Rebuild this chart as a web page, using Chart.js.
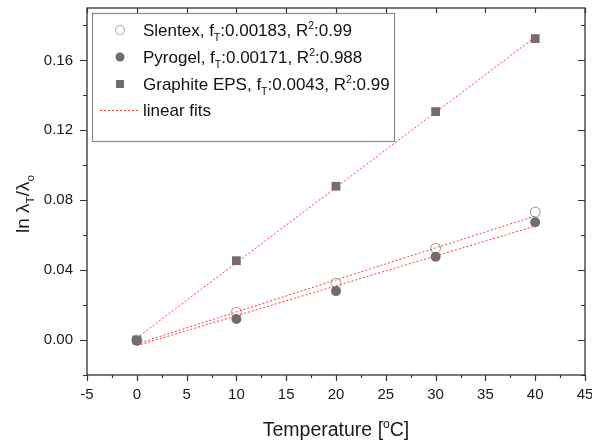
<!DOCTYPE html>
<html>
<head>
<meta charset="utf-8">
<script src="https://cdn.jsdelivr.net/npm/chart.js@4/dist/chart.umd.min.js"></script>
<style>
html,body{margin:0;padding:0;background:#fff}
</style>
</head>
<body>
<canvas id="chart" width="592" height="442"></canvas>
<script>

// measured points
const temps = [0, 10, 20, 30, 40]
const slentex = [0, 0.0159, 0.0325, 0.0525, 0.0732]
const pyrogel = [-0.0004, 0.012, 0.028, 0.0477, 0.0674]
const graphite = [0, 0.0454, 0.088, 0.1307, 0.1725]

// fit lines, read at both ends
const fitX = [0, 40]
const slentexFit = [-0.0022, 0.0710]
const pyrogelFit = [-0.0032, 0.0652]
const graphiteFit = [0.0012, 0.1734]

const xTickLabels = ["-5","0","5","10","15","20","25","30","35","40","45"]
const yTickLabels = ["0.00","0.04","0.08","0.12","0.16"]

const FONT = "Arial, 'Liberation Sans', sans-serif"
const GREY = "#6e6e6e"
const FITRED = "#ff3b3b"

function pts(xs, ys){
  return xs.map((x,i) => ({x:x, y:ys[i]}))
}

// text with sub / superscripts, parts = [[text, mode], ...]
function richWidth(ctx, parts, size){
  let w = 0
  for(const p of parts){
    const s = p[1] ? size*0.62 : size
    ctx.font = s + "px " + FONT
    w += ctx.measureText(p[0]).width
  }
  return w
}

function drawRich(ctx, parts, x, y, size){
  ctx.textBaseline = "alphabetic"
  ctx.textAlign = "left"
  for(const p of parts){
    const s = p[1] ? size*0.62 : size
    let dy = 0
    if(p[1] == "sub") dy = size*0.28
    if(p[1] == "sup") dy = -size*0.42
    ctx.font = s + "px " + FONT
    ctx.fillText(p[0], x, y + dy)
    x += ctx.measureText(p[0]).width
  }
}

const decor = {
  id: "decor",
  afterDraw(chart){
    const ctx = chart.ctx
    const a = chart.chartArea
    const xs = chart.scales.x
    const ys = chart.scales.y
    ctx.save()

    // frame
    ctx.strokeStyle = "#333"
    ctx.lineWidth = 1.3
    ctx.strokeRect(a.left, a.top, a.right - a.left, a.bottom - a.top)

    // x ticks: bottom outward, top inward
    ctx.lineWidth = 1.2
    ctx.beginPath()
    for(let v = -5; v <= 45; v += 2.5){
      const px = Math.round(xs.getPixelForValue(v)) + 0.5
      const major = v % 5 == 0
      ctx.moveTo(px, a.bottom)
      ctx.lineTo(px, a.bottom + (major ? 6 : 3))
      if(major){
        ctx.moveTo(px, a.top)
        ctx.lineTo(px, a.top + 5)
      }
    }
    // y ticks: left outward, right inward
    for(let i = -1; i <= 9; i++){
      const v = i*0.02
      const py = Math.round(ys.getPixelForValue(v)) + 0.5
      const major = i % 2 == 0
      ctx.moveTo(a.left, py)
      ctx.lineTo(a.left - (major ? 7 : 4), py)
      ctx.moveTo(a.right, py)
      ctx.lineTo(a.right - (major ? 7 : 4), py)
    }
    ctx.stroke()

    // tick labels
    ctx.fillStyle = "#1a1a1a"
    ctx.font = "15px " + FONT
    ctx.textAlign = "center"
    ctx.textBaseline = "middle"
    for(const t of xTickLabels){
      ctx.fillText(t, xs.getPixelForValue(parseFloat(t)), a.bottom + 20)
    }
    ctx.textAlign = "right"
    for(const t of yTickLabels){
      ctx.fillText(t, a.left - 14, ys.getPixelForValue(parseFloat(t)))
    }

    // x title
    const xt = [["Temperature [",""],["o","sup"],["C]",""]]
    const xw = richWidth(ctx, xt, 19.5)
    drawRich(ctx, xt, (a.left + a.right)/2 - xw/2, 436, 19.5)

    // y title
    const yt = [["ln \u03bb",""],["T","sub"],["/\u03bb",""],["o","sub"]]
    ctx.save()
    ctx.translate(29, 204)
    ctx.rotate(-Math.PI/2)
    const yw = richWidth(ctx, yt, 19)
    drawRich(ctx, yt, -yw/2, 0, 19)
    ctx.restore()

    // legend box
    ctx.strokeStyle = "#8a8a8a"
    ctx.lineWidth = 1.2
    ctx.strokeRect(92.5, 13.5, 302, 128)

    const rows = [30, 57, 84, 110]
    // markers
    ctx.lineWidth = 1.1
    ctx.strokeStyle = "#a8a8a8"
    ctx.beginPath(); ctx.arc(120, rows[0], 4.5, 0, Math.PI*2); ctx.stroke()
    ctx.fillStyle = GREY
    ctx.beginPath(); ctx.arc(120, rows[1], 4.5, 0, Math.PI*2); ctx.fill()
    ctx.fillRect(116, rows[2] - 4, 8, 8)
    ctx.strokeStyle = FITRED
    ctx.lineWidth = 1
    ctx.setLineDash([2, 2])
    ctx.beginPath(); ctx.moveTo(100, rows[3] + 0.5); ctx.lineTo(138, rows[3] + 0.5); ctx.stroke()
    ctx.setLineDash([])

    ctx.fillStyle = "#111"
    const legendTexts = [
      [["Slentex, f",""],["T","sub"],[":0.00183, R",""],["2","sup"],[":0.99",""]],
      [["Pyrogel, f",""],["T","sub"],[":0.00171, R",""],["2","sup"],[":0.988",""]],
      [["Graphite EPS, f",""],["T","sub"],[":0.0043, R",""],["2","sup"],[":0.99",""]],
      [["linear fits",""]]
    ]
    legendTexts.forEach((parts, i) => drawRich(ctx, parts, 143, rows[i] + 6, 17))

    ctx.restore()
  }
}

new Chart(document.getElementById("chart"), {
  type: "scatter",
  data: {
    datasets: [
      {label:"Slentex", data:pts(temps, slentex), pointStyle:"circle", pointRadius:5,
       backgroundColor:"rgba(255,255,255,0)", borderColor:"#a8a8a8", borderWidth:1.1, order:2},
      {label:"Pyrogel", data:pts(temps, pyrogel), pointStyle:"circle", pointRadius:5,
       backgroundColor:GREY, borderColor:GREY, borderWidth:0, order:1},
      {label:"Graphite EPS", data:pts(temps, graphite), pointStyle:"rect", pointRadius:6.2,
       backgroundColor:GREY, borderColor:GREY, borderWidth:0, order:1},
      {label:"fit1", data:pts(fitX, slentexFit), showLine:true, pointRadius:0,
       borderColor:FITRED, borderWidth:1, borderDash:[2,2], order:0},
      {label:"fit2", data:pts(fitX, pyrogelFit), showLine:true, pointRadius:0,
       borderColor:FITRED, borderWidth:1, borderDash:[2,2], order:0},
      {label:"fit3", data:pts(fitX, graphiteFit), showLine:true, pointRadius:0,
       borderColor:FITRED, borderWidth:1, borderDash:[2,2], order:0}
    ]
  },
  options: {
    responsive: false,
    animation: false,
    layout: {padding: {left:0, right:7, top:8, bottom:0}},
    plugins: {legend:{display:false}, tooltip:{enabled:false}},
    scales: {
      x: {
        min: -5, max: 45,
        grid: {display:false}, border: {display:false},
        ticks: {display:false},
        afterFit(s){ s.height = 67 }
      },
      y: {
        min: -0.02, max: 0.19,
        grid: {display:false}, border: {display:false},
        ticks: {display:false},
        afterFit(s){ s.width = 87 }
      }
    }
  },
  plugins: [decor]
})

</script>
</body>
</html>
